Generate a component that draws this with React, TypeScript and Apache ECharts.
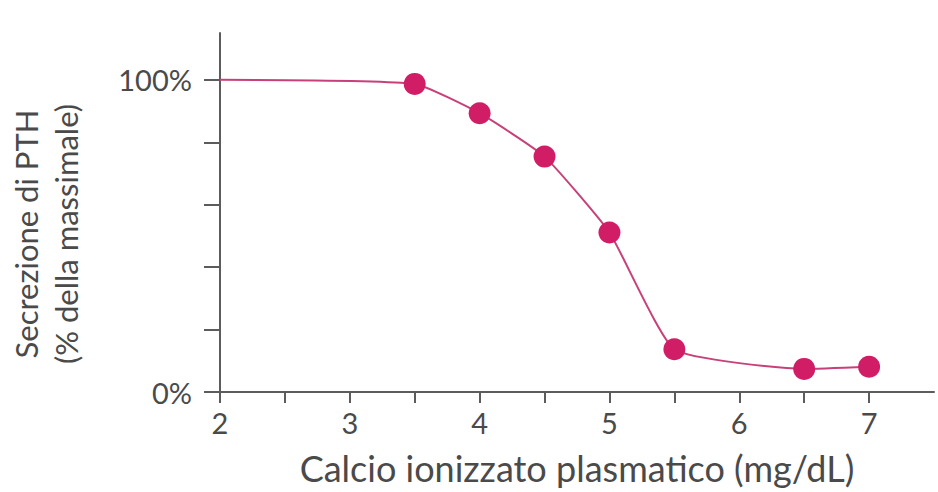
import React, { useEffect, useRef } from "react";
import * as echarts from "echarts";

const calcium = [2, 3.5, 4, 4.5, 5, 5.5, 6.5, 7];
const pthSecretion = [100, 98.7, 89.3, 75.4, 51.1, 13.7, 7.4, 8.1];
const xTickValues = [2, 2.5, 3, 3.5, 4, 4.5, 5, 5.5, 6, 6.5, 7];
const xLabelValues = [2, 3, 4, 5, 6, 7];
const yTickValues = [0, 20, 40, 60, 80, 100];
const yLabelValues = [0, 100];
const xTitle = "Calcio ionizzato plasmatico (mg/dL)";
const yTitle = "Secrezione di PTH\n(% della massimale)";

const FONT = "Lato";
const TEXT = "#4a4a4a";
const AXIS = "#5c5c5c";

export default function App() {
  const ref = useRef<HTMLDivElement>(null);
  useEffect(() => {
    if (!ref.current) return;
    const chart = echarts.init(ref.current, null, { renderer: "svg" });
    const data = calcium.map((x, i) =>
      i === 0
        ? { value: [x, pthSecretion[i]], symbol: "none" }
        : { value: [x, pthSecretion[i]] }
    );
    chart.setOption({
      animation: false,
      backgroundColor: "#ffffff",
      grid: { left: 220, right: 4, top: 33, bottom: 100, containLabel: false },
      xAxis: {
        type: "value",
        min: 2,
        max: 7.5,
        splitLine: { show: false },
        axisLine: { show: true, onZero: false, lineStyle: { color: AXIS, width: 2 } },
        axisTick: {
          show: true,
          length: 11,
          customValues: xTickValues,
          lineStyle: { color: AXIS, width: 2 },
        },
        axisLabel: {
          customValues: xLabelValues,
          margin: 16,
          fontFamily: FONT,
          fontSize: 29,
          color: TEXT,
        },
        name: xTitle,
        nameLocation: "middle",
        nameGap: 58,
        nameTextStyle: { fontFamily: FONT, fontSize: 36, color: TEXT },
      },
      yAxis: {
        type: "value",
        min: 0,
        max: 115,
        splitLine: { show: false },
        axisLine: { show: true, onZero: false, lineStyle: { color: AXIS, width: 2 } },
        axisTick: {
          show: true,
          length: 16,
          customValues: yTickValues,
          lineStyle: { color: AXIS, width: 2 },
        },
        axisLabel: {
          customValues: yLabelValues,
          formatter: "{value}%",
          margin: 28,
          fontFamily: FONT,
          fontSize: 29,
          color: TEXT,
        },
      },
      graphic: [
        {
          type: "text",
          x: 45.5,
          y: 234,
          rotation: Math.PI / 2,
          style: {
            text: yTitle,
            fontFamily: FONT,
            fontSize: 31,
            lineHeight: 40,
            fill: TEXT,
            align: "center",
            verticalAlign: "middle",
          },
        },
      ],
      series: [
        {
          type: "line",
          data,
          smooth: 0.15,
          symbol: "circle",
          symbolSize: 22,
          showSymbol: true,
          lineStyle: { color: "#c8407a", width: 2 },
          itemStyle: { color: "#d11d66" },
          z: 3,
        },
      ],
    });
    return () => chart.dispose();
  }, []);
  return (
    <div
      ref={ref}
      style={{ position: "absolute", left: 0, top: 0, width: 938, height: 492 }}
    />
  );
}
